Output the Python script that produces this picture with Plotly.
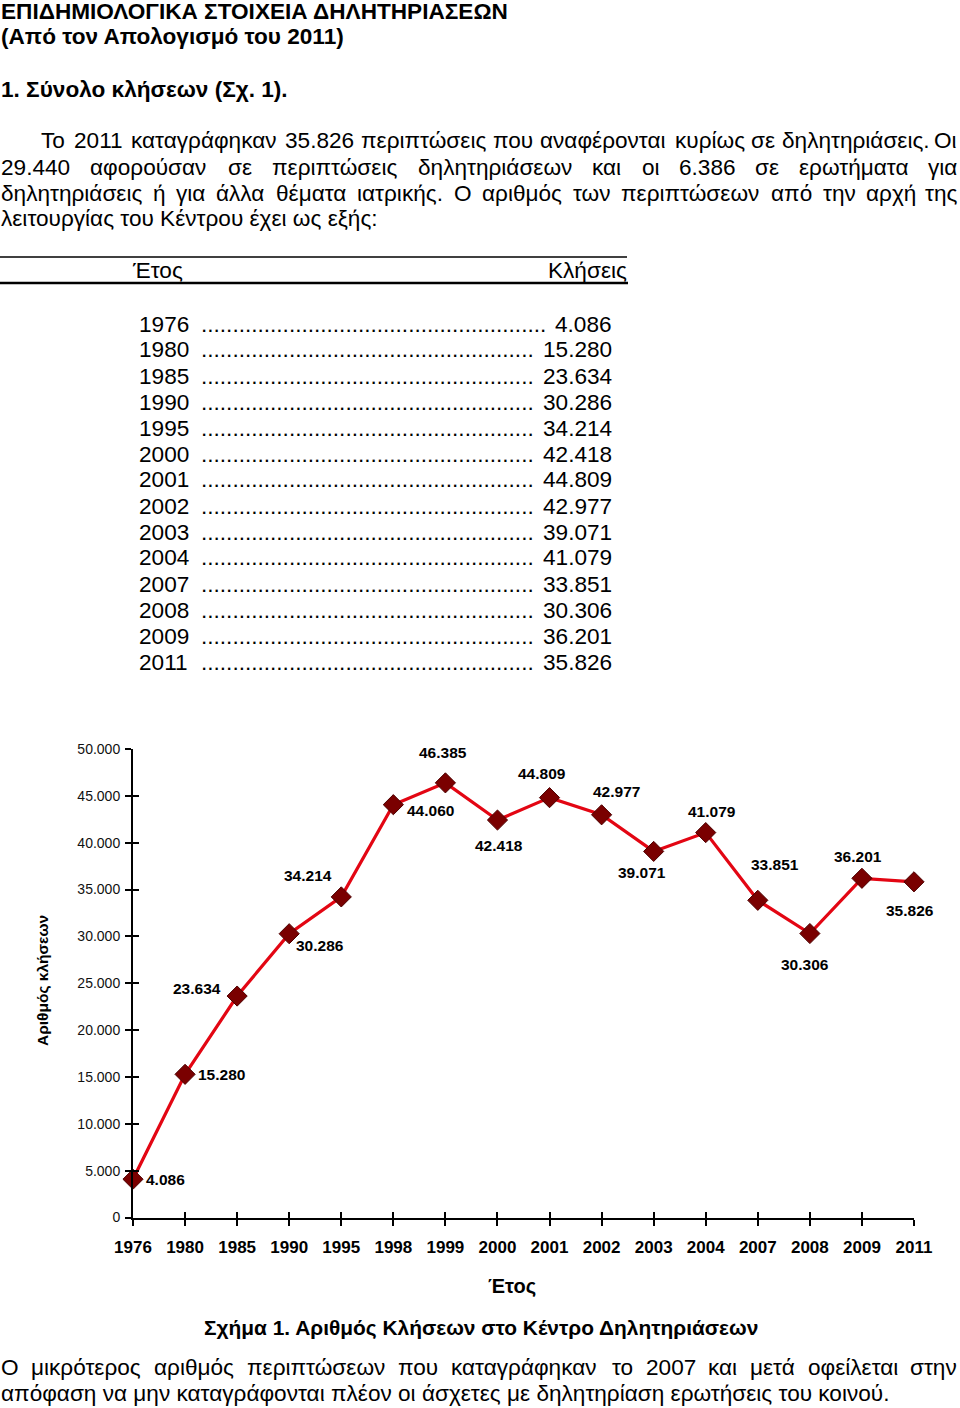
import plotly.graph_objects as go

# ---------------- data ----------------
years = ["1976", "1980", "1985", "1990", "1995", "1998", "1999", "2000",
         "2001", "2002", "2003", "2004", "2007", "2008", "2009", "2011"]
calls = [4086, 15280, 23634, 30286, 34214, 44060, 46385, 42418,
         44809, 42977, 39071, 41079, 33851, 30306, 36201, 35826]

table_years = ["1976", "1980", "1985", "1990", "1995", "2000", "2001",
               "2002", "2003", "2004", "2007", "2008", "2009", "2011"]
table_calls = [4086, 15280, 23634, 30286, 34214, 42418, 44809,
               42977, 39071, 41079, 33851, 30306, 36201, 35826]

y_ticks = [0, 5000, 10000, 15000, 20000, 25000, 30000, 35000, 40000, 45000, 50000]

# ---------------- style / layout ----------------
W, H = 960, 1408
SANS = "Liberation Sans, Arial, sans-serif"
BLACK = "#000000"
LINE_RED = "#e30613"
MARK_RED = "#7a0000"
BODY = 22.6

# label offsets (px) relative to each point: (dx right, dy up)
label_offsets = [(32, 0), (36, 0), (-40, 8), (31, -12), (-33, 21), (37, -6),
                 (-2, 30), (2, -25), (-8, 24), (15, 23), (-12, -21), (6, 21),
                 (17, 36), (-5, -31), (-4, 22), (-4, -29)]

# approximate Arial advance widths (em) used to justify paragraph lines
CW = {' ': .278, '.': .278, ',': .278, ':': .278, '(': .333, ')': .333,
      'α': .578, 'ά': .578, 'β': .575, 'γ': .5, 'δ': .556, 'ε': .446, 'έ': .446,
      'ζ': .441, 'η': .556, 'ή': .556, 'θ': .556, 'ι': .222, 'ί': .222, 'κ': .5,
      'λ': .5, 'μ': .576, 'ν': .5, 'ξ': .448, 'ο': .556, 'ό': .556, 'π': .688,
      'ρ': .578, 'ς': .486, 'σ': .617, 'τ': .395, 'υ': .549, 'ύ': .549,
      'φ': .72, 'χ': .5, 'ψ': .712, 'ω': .781, 'ώ': .781,
      'Ο': .778, 'Τ': .611}


def text_w(s, size):
    return sum(CW.get(c, .556) for c in s) * size


def fx(px):
    return px / W


def fy(py):
    return 1 - py / H


def fmt(v):
    return f"{v:,}".replace(",", ".")


PLOT_L, PLOT_R = 133, 914
PLOT_T, PLOT_B = 749, 1217.5

fig = go.Figure()
fig.add_trace(go.Scatter(
    x=years, y=calls, mode="lines+markers",
    line=dict(color=LINE_RED, width=3.2),
    marker=dict(symbol="diamond", size=15.5, color=MARK_RED,
                line=dict(color="#4d0000", width=1)),
    cliponaxis=False, hoverinfo="skip", showlegend=False,
))
# overlay axes carrying only the inner half of the crossing ticks
fig.add_trace(go.Scatter(
    x=years, y=[None] * len(years), xaxis="x2", yaxis="y2",
    mode="lines", showlegend=False, hoverinfo="skip",
))

ann = []
# data labels (x given as category index)
for i, (v, (dx, dy)) in enumerate(zip(calls, label_offsets)):
    ann.append(dict(x=i, y=v, xref="x", yref="y", text=fmt(v), showarrow=False,
                    xshift=dx, yshift=dy, xanchor="center", yanchor="middle",
                    font=dict(family=SANS, size=15.5, color=BLACK, weight="bold")))


def txt(text, px, py, size=BODY, bold=False, anchor="left", angle=0):
    ann.append(dict(x=fx(px), y=fy(py), xref="paper", yref="paper", text=text,
                    showarrow=False, xanchor=anchor, yanchor="middle", textangle=angle,
                    borderpad=0,
                    font=dict(family=SANS, size=size, color=BLACK,
                              weight="bold" if bold else "normal")))


def justified(line, left, right, py, size=BODY):
    words = line.split(" ")
    widths = [text_w(w, size) for w in words]
    gap = (right - left - sum(widths)) / (len(words) - 1)
    x = left
    for i, (w, ww) in enumerate(zip(words, widths)):
        if i == len(words) - 1:
            txt(w, right, py, size=size, anchor="right")
        else:
            txt(w, x, py, size=size)
        x += ww + gap


# headings
txt("ΕΠΙΔΗΜΙΟΛΟΓΙΚΑ ΣΤΟΙΧΕΙΑ ΔΗΛΗΤΗΡΙΑΣΕΩΝ", 0, 11, bold=True)
txt("(Από τον Απολογισμό του 2011)", 0, 37, bold=True)
txt("1. Σύνολο κλήσεων (Σχ. 1).", 0, 89, bold=True)

# justified paragraph
justified("Το 2011 καταγράφηκαν 35.826 περιπτώσεις που αναφέρονται κυρίως σε δηλητηριάσεις. Οι",
          40, 958, 141)
justified("29.440 αφορούσαν σε περιπτώσεις δηλητηριάσεων και οι 6.386 σε ερωτήματα για",
          0, 958, 167)
justified("δηλητηριάσεις ή για άλλα θέματα ιατρικής. Ο αριθμός των περιπτώσεων από την αρχή της",
          0, 958, 193)
txt("λειτουργίας του Κέντρου έχει ως εξής:", 0, 219)

# table
txt("Έτος", 131, 270)
txt("Κλήσεις", 628, 270, anchor="right")
DOT = CW['.'] * BODY
for i, (yr, v) in enumerate(zip(table_years, table_calls)):
    py = 324 + 26 * i
    s = fmt(v)
    n = int((613 - text_w(s, BODY) - 6 - 200) / DOT)
    txt(yr, 138, py)
    txt("." * n, 200, py)
    txt(s, 613, py, anchor="right")

# chart titles / caption
txt("Αριθμός κλήσεων", 42, 981, size=15.5, bold=True, anchor="center", angle=-90)
txt("Έτος", 512, 1286, size=20, bold=True, anchor="center")
txt("Σχήμα 1. Αριθμός Κλήσεων στο Κέντρο Δηλητηριάσεων", 481, 1328, size=20.9,
    bold=True, anchor="center")

# closing paragraph
justified("Ο μικρότερος αριθμός περιπτώσεων που καταγράφηκαν το 2007 και μετά οφείλεται στην",
          0, 958, 1367)
txt("απόφαση να μην καταγράφονται πλέον οι άσχετες με δηλητηρίαση ερωτήσεις του κοινού.", 0, 1393)

shapes = [
    dict(type="line", xref="paper", yref="paper", x0=fx(0), x1=fx(627), y0=fy(257), y1=fy(257),
         line=dict(color=BLACK, width=1.6)),
    dict(type="line", xref="paper", yref="paper", x0=fx(0), x1=fx(628), y0=fy(283), y1=fy(283),
         line=dict(color=BLACK, width=2.6)),
]

xdom = [fx(PLOT_L), fx(PLOT_R)]
ydom = [fy(PLOT_B), fy(PLOT_T)]

fig.update_layout(
    width=W, height=H, margin=dict(l=0, r=0, t=0, b=0, autoexpand=False),
    paper_bgcolor="white", plot_bgcolor="white", showlegend=False,
    separators=",.",
    annotations=ann, shapes=shapes,
    xaxis=dict(domain=xdom, type="category", categoryorder="array", categoryarray=years,
               range=[0, len(years) - 1], showgrid=False, zeroline=False, automargin=False,
               showline=True, linecolor=BLACK, linewidth=2,
               ticks="outside", ticklen=6, tickwidth=2, tickcolor=BLACK,
               ticklabelstandoff=7,
               tickfont=dict(family=SANS, size=17, color=BLACK, weight="bold"),
               anchor="y"),
    yaxis=dict(domain=ydom, range=[0, 50000], tickvals=y_ticks, tickformat=",d",
               showgrid=False, zeroline=False, automargin=False,
               showline=True, linecolor=BLACK, linewidth=2,
               ticks="outside", ticklen=6, tickwidth=2, tickcolor=BLACK,
               ticklabelstandoff=2,
               tickfont=dict(family=SANS, size=14, color="#111111"),
               anchor="x"),
    xaxis2=dict(type="category", categoryorder="array", categoryarray=years,
                range=[0, len(years) - 1], overlaying="x", anchor="y2", automargin=False,
                showgrid=False, zeroline=False, showline=False, showticklabels=False,
                ticks="inside", ticklen=6, tickwidth=2, tickcolor=BLACK),
    yaxis2=dict(range=[0, 50000], tickvals=y_ticks, overlaying="y", anchor="x2",
                automargin=False,
                showgrid=False, zeroline=False, showline=False, showticklabels=False,
                ticks="inside", ticklen=6, tickwidth=2, tickcolor=BLACK),
)

fig.write_html("out.html")
